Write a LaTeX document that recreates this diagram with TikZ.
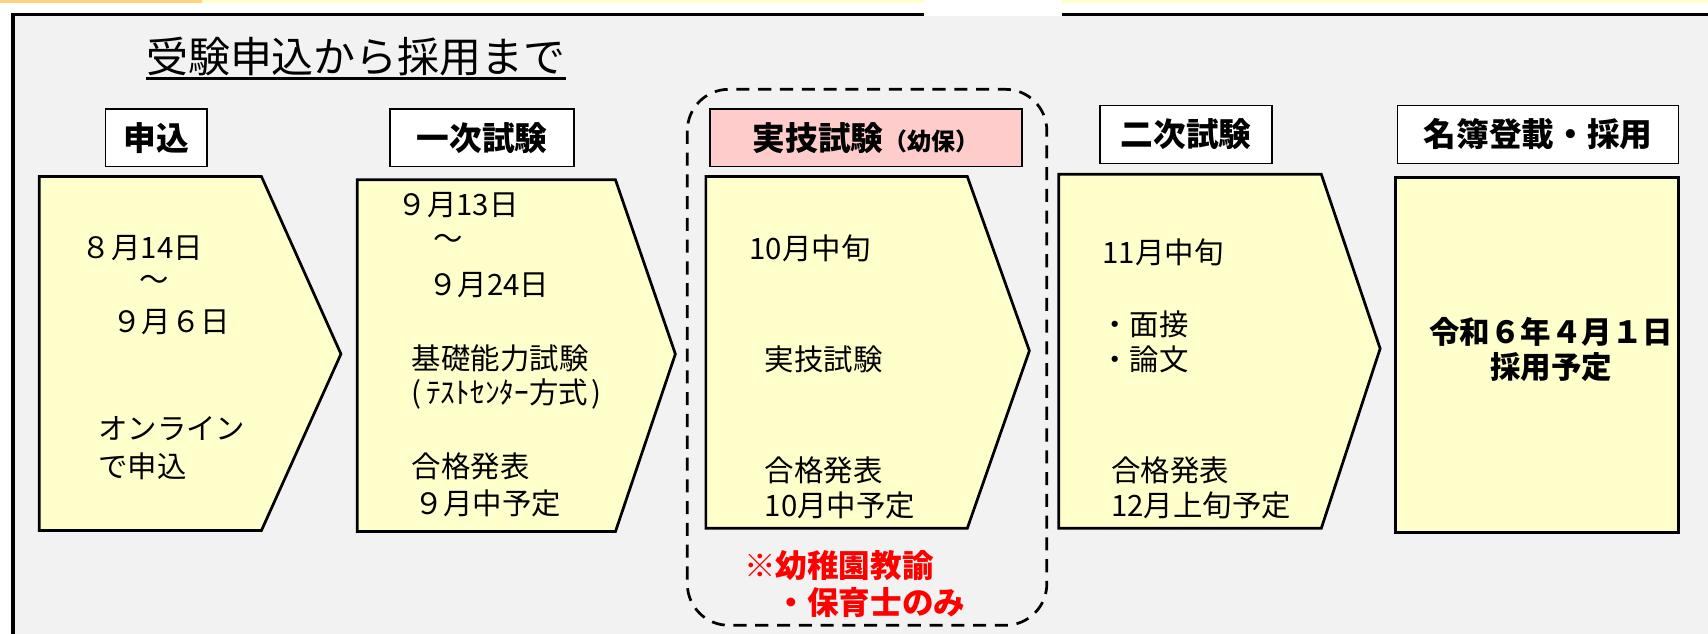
\documentclass[tikz,border=0pt]{standalone}
\usepackage{fontspec}
\setmainfont{Noto Sans CJK JP}
\definecolor{bandorange}{HTML}{FFD27F}
\definecolor{bandyellow}{HTML}{FFFFCC}
\definecolor{panelgrey}{HTML}{F2F2F2}
\definecolor{chevfill}{HTML}{FFFFCC}
\definecolor{pinkfill}{HTML}{FFCCCC}
\definecolor{notered}{HTML}{FF0000}
\tikzset{
  headbox/.style={draw=black, line width=1.5pt, fill=white, minimum height=53pt, inner sep=0pt,
    font=\fontsize{30}{34}\selectfont\bfseries},
  chev/.style={draw=black, line width=2.5pt, fill=chevfill, line join=miter},
  body/.style={anchor=west, inner sep=0pt, font=\fontsize{27}{30}\selectfont},
  bodyb/.style={anchor=center, inner sep=0pt, font=\fontsize{28}{30}\selectfont\bfseries},
  redtext/.style={anchor=west, inner sep=0pt, text=notered, font=\fontsize{29}{32}\selectfont\bfseries},
  groupline/.style={draw=black, line width=2.5pt, dash pattern=on 12pt off 8pt, rounded corners=38pt}
}
\begin{document}
\begin{tikzpicture}[x=1pt,y=-1pt]
\useasboundingbox (0,0) rectangle (1568,582);
\clip (0,0) rectangle (1568,582);
\fill[white] (0,0) rectangle (1568,582);
% top bands
\fill[bandorange] (0,0) rectangle (185,3);
\fill[bandyellow] (185,0) rectangle (1568,3);
% grey panel
\filldraw[fill=panelgrey, draw=black, line width=3pt] (12,13) rectangle (1600,640);
\fill[white] (848,0) rectangle (975,15);
% title
\node[anchor=base west, inner sep=0pt, font=\fontsize{38.5}{42}\selectfont] (title) at (134,67) {受験申込から採用まで};
\draw[line width=2pt] (title.base west) ++(0,5) -- (520,72);
% dashed group
\draw[groupline] (631,82) rectangle (961,574);
% header boxes
\node[headbox, minimum width=93pt] (h1) at (143.5,126.5) {申込};
\node[headbox, minimum width=169pt] (h2) at (442.5,126.5) {一次試験};
\node[headbox, minimum width=286pt, fill=pinkfill] (h3) at (795,126.5) {実技試験\fontsize{22}{24}\selectfont（幼保）};
\node[headbox, minimum width=158pt] (h4) at (1089,123.5) {二次試験};
\node[headbox, minimum width=258pt] (h5) at (1412,123.5) {名簿登載・採用};
% chevrons
\draw[chev] (36,162) -- (240,162) -- (313,325) -- (240,487) -- (36,487) -- cycle;
\draw[chev] (328,165) -- (565,165) -- (620,325) -- (565,488) -- (328,488) -- cycle;
\draw[chev] (648,162) -- (888,162) -- (945,322) -- (888,485) -- (648,485) -- cycle;
\draw[chev] (972,160) -- (1213,160) -- (1267,320) -- (1213,485) -- (972,485) -- cycle;
\draw[chev] (1281,163) rectangle (1541,489);
% chevron 1 text
\node[body] (a1) at (75,228) {８月14日};
\node[body] (a2) at (128,260) {～};
\node[body] (a3) at (103,296) {９月６日};
\node[body] (a4) at (90,393) {オンライン};
\node[body] (a5) at (90,428) {で申込};
% chevron 2 text
\node[body] (b1) at (365,188) {９月13日};
\node[body] (b2) at (398,222) {～};
\node[body] (b3) at (393,262) {９月24日};
\node[body] (b4) at (378,329) {基礎能力試験};
\node[body] (b5) at (378,362) {(\hspace{4pt}ﾃｽﾄｾﾝﾀｰ方式\hspace{3pt})};
\node[body] (b6) at (378,428) {合格発表};
\node[body] (b7) at (380,462) {９月中予定};
% chevron 3 text
\node[body] (c1) at (688,228) {10月中旬};
\node[body] (c2) at (702,330) {実技試験};
\node[body] (c3) at (702,432) {合格発表};
\node[body] (c4) at (702,464) {10月中予定};
% chevron 4 text
\node[body] (d1) at (1012,232) {11月中旬};
\node[body] (d2) at (1010,298) {・面接};
\node[body] (d3) at (1010,330) {・論文};
\node[body] (d4) at (1020,432) {合格発表};
\node[body] (d5) at (1020,464) {12月上旬予定};
% final box text
\node[bodyb] (e1) at (1424,305) {令和６年４月１日};
\node[bodyb] (e2) at (1424,337) {採用予定};
% red note
\node[redtext] (r1) at (683,519) {※幼稚園教諭};
\node[redtext] (r2) at (712,553) {・保育士のみ};
\end{tikzpicture}
\end{document}
